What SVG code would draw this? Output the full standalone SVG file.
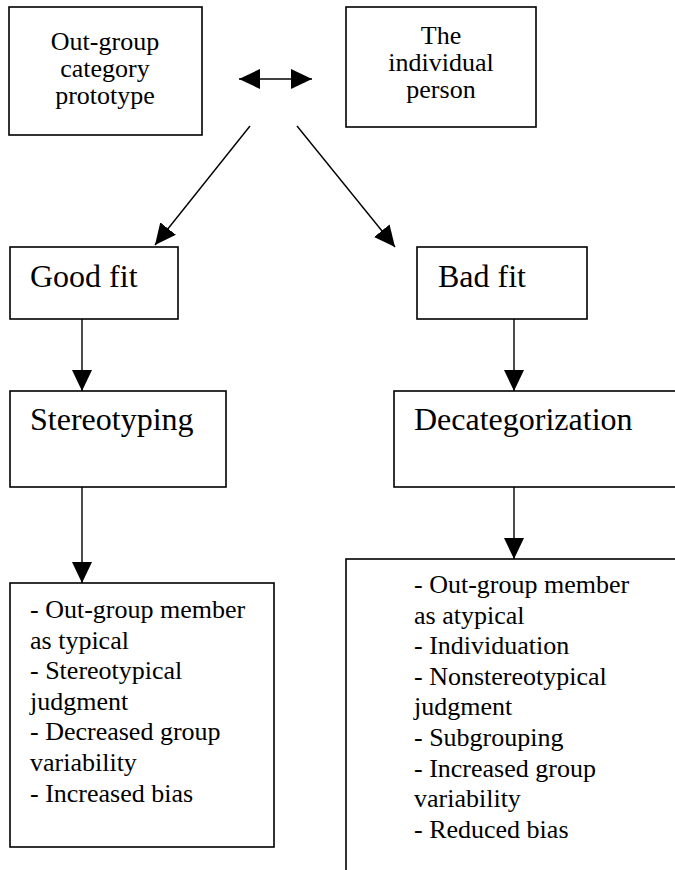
<svg xmlns="http://www.w3.org/2000/svg" width="675" height="870" viewBox="0 0 675 870">
  <style>
    .box { fill: #ffffff; stroke: #000000; stroke-width: 1.6; }
    text { font-family: "Liberation Serif", "Times New Roman", "DejaVu Serif", serif; fill: #000000; }
    .c { text-anchor: middle; font-size: 26px; }
    .big { font-size: 32px; }
    .lst { font-size: 26px; }
    .conn line { stroke: #000000; stroke-width: 1.4; fill: none; }
  </style>
  <defs>
    <marker id="ah" viewBox="0 0 21 20" refX="21" refY="10" markerWidth="21" markerHeight="20" markerUnits="userSpaceOnUse" orient="auto-start-reverse">
      <path d="M0,0 L21,10 L0,20 Z" fill="#000000"/>
    </marker>
  </defs>
  <rect width="675" height="870" fill="#ffffff"/>

  <g id="prototype" font-family="Liberation Serif, serif">
    <rect class="box" x="9" y="7" width="193" height="128"/>
    <text class="c" x="105" y="50">Out-group</text>
    <text class="c" x="105" y="77">category</text>
    <text class="c" x="105" y="104">prototype</text>
  </g>

  <g id="individual" font-family="Liberation Serif, serif">
    <rect class="box" x="346" y="7" width="190" height="120"/>
    <text class="c" x="441" y="44">The</text>
    <text class="c" x="441" y="71">individual</text>
    <text class="c" x="441" y="98">person</text>
  </g>

  <g id="goodfit" font-family="Liberation Serif, serif">
    <rect class="box" x="10" y="247" width="168" height="72"/>
    <text class="big" x="30" y="287">Good fit</text>
  </g>

  <g id="badfit" font-family="Liberation Serif, serif">
    <rect class="box" x="417" y="247" width="170" height="72"/>
    <text class="big" x="438" y="287">Bad fit</text>
  </g>

  <g id="stereotyping" font-family="Liberation Serif, serif">
    <rect class="box" x="10" y="391" width="216" height="96"/>
    <text class="big" x="30" y="430">Stereotyping</text>
  </g>

  <g id="decategorization" font-family="Liberation Serif, serif">
    <rect class="box" x="394" y="391" width="300" height="96"/>
    <text class="big" x="414" y="430">Decategorization</text>
  </g>

  <g id="stereo-effects" font-family="Liberation Serif, serif">
    <rect class="box" x="10" y="583" width="264" height="264"/>
    <text class="lst" x="30" y="618">- Out-group member</text>
    <text class="lst" x="30" y="648.6">as typical</text>
    <text class="lst" x="30" y="679.2">- Stereotypical</text>
    <text class="lst" x="30" y="709.8">judgment</text>
    <text class="lst" x="30" y="740.4">- Decreased group</text>
    <text class="lst" x="30" y="771">variability</text>
    <text class="lst" x="30" y="801.6">- Increased bias</text>
  </g>

  <g id="decat-effects" font-family="Liberation Serif, serif">
    <rect class="box" x="346" y="559" width="360" height="340"/>
    <text class="lst" x="414" y="593">- Out-group member</text>
    <text class="lst" x="414" y="623.6">as atypical</text>
    <text class="lst" x="414" y="654.2">- Individuation</text>
    <text class="lst" x="414" y="684.8">- Nonstereotypical</text>
    <text class="lst" x="414" y="715.4">judgment</text>
    <text class="lst" x="414" y="746">- Subgrouping</text>
    <text class="lst" x="414" y="776.6">- Increased group</text>
    <text class="lst" x="414" y="807.2">variability</text>
    <text class="lst" x="414" y="837.8">- Reduced bias</text>
  </g>

  <g id="connectors" class="conn">
    <line x1="239" y1="79" x2="312" y2="79" marker-start="url(#ah)" marker-end="url(#ah)"/>
    <line x1="250" y1="126" x2="155" y2="245" marker-end="url(#ah)"/>
    <line x1="297" y1="126" x2="395" y2="247" marker-end="url(#ah)"/>
    <line x1="82" y1="319" x2="82" y2="391" marker-end="url(#ah)"/>
    <line x1="514" y1="319" x2="514" y2="391" marker-end="url(#ah)"/>
    <line x1="82" y1="487" x2="82" y2="583" marker-end="url(#ah)"/>
    <line x1="514" y1="487" x2="514" y2="559" marker-end="url(#ah)"/>
  </g>
</svg>
